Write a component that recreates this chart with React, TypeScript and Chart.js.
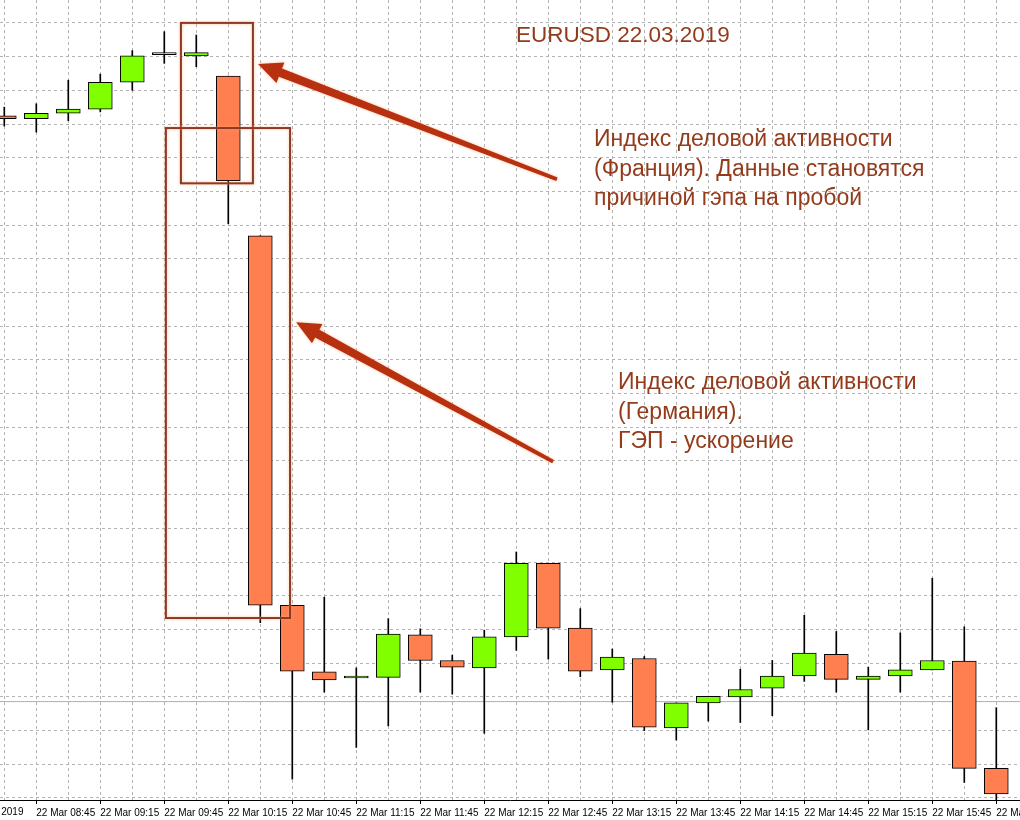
import { useEffect, useRef } from "react";
import { Chart, registerables, type Plugin } from "chart.js";

Chart.register(...registerables);

// EURUSD M15, 22.03.2019
const TIMES = [
  "08:30", "08:45", "09:00", "09:15", "09:30", "09:45", "10:00", "10:15",
  "10:30", "10:45", "11:00", "11:15", "11:30", "11:45", "12:00", "12:15",
  "12:30", "12:45", "13:00", "13:15", "13:30", "13:45", "14:00", "14:15",
  "14:30", "14:45", "15:00", "15:15", "15:30", "15:45", "16:00", "16:15",
];
const OPEN = [
  1.13712, 1.13708, 1.13716, 1.13722, 1.13762, 1.13803, 1.13801, 1.13771,
  1.13534, 1.12986, 1.12887, 1.12878, 1.12879, 1.12942, 1.12904, 1.12893,
  1.12939, 1.13048, 1.12952, 1.1289, 1.12907, 1.12804, 1.12841, 1.1285,
  1.12863, 1.12881, 1.12913, 1.12876, 1.12881, 1.1289, 1.12903, 1.12744,
];
const HIGH = [
  1.13725, 1.1373, 1.13765, 1.13774, 1.13809, 1.13837, 1.13832, 1.13771,
  1.13534, 1.12986, 1.12998, 1.12893, 1.12966, 1.12951, 1.12912, 1.12949,
  1.13065, 1.13048, 1.12981, 1.12921, 1.1291, 1.12841, 1.12851, 1.12891,
  1.12904, 1.12971, 1.12947, 1.12894, 1.12945, 1.13026, 1.12954, 1.12834,
];
const LOW = [
  1.13697, 1.13688, 1.13705, 1.13718, 1.1375, 1.1379, 1.13785, 1.13552,
  1.1296, 1.12728, 1.12857, 1.12775, 1.12807, 1.12857, 1.12854, 1.12796,
  1.12919, 1.12906, 1.1288, 1.12842, 1.128, 1.12786, 1.12814, 1.12812,
  1.12822, 1.12873, 1.12857, 1.12801, 1.12857, 1.1289, 1.12723, 1.1269,
];
const CLOSE = [
  1.13708, 1.13716, 1.13722, 1.13762, 1.13801, 1.13803, 1.13806, 1.13616,
  1.12986, 1.12888, 1.12875, 1.12881, 1.12943, 1.12904, 1.12894, 1.12939,
  1.13048, 1.12952, 1.12888, 1.12909, 1.12805, 1.12841, 1.12851, 1.12861,
  1.12881, 1.12915, 1.12876, 1.12881, 1.1289, 1.12904, 1.12744, 1.12706,
];
const BID = 1.12843;

// visible window of the terminal
const X_MIN = -0.134;
const X_MAX = 31.741;
const Y_MIN = 1.12697;
const Y_MAX = 1.13884;
const PRICE_STEP = 0.0005;
const DATE_LABEL = "22 Mar 2019";
const DATE_LABEL_END = 0.6;

// annotation boxes / arrows in data units (bar index, price)
const BOXES = [
  { x0: 5.52, x1: 7.77, p0: 1.1385, p1: 1.13612 },
  { x0: 5.05, x1: 8.93, p0: 1.13694, p1: 1.12967 },
];
const ARROWS = [
  { fromX: 17.27, fromP: 1.13618, toX: 7.93, toP: 1.13789 },
  { fromX: 17.15, fromP: 1.13199, toX: 9.12, toP: 1.13406 },
];

const TITLE = "EURUSD 22.03.2019";
const NOTE_FRANCE = [
  "Индекс деловой активности",
  "(Франция). Данные становятся",
  "причиной гэпа на пробой",
];
const NOTE_GERMANY = ["Индекс деловой активности", "(Германия).", "ГЭП - ускорение"];

const BULL = "#7FFF00";
const BEAR = "#FF7F50";
const GRID = "#b4b4b4";
const NOTE_COLOR = "#933b1b";
const BOX_COLOR = "#8c3a26";
const ARROW_COLOR = "#b7300f";
const FONT = '"Liberation Sans", Arial, sans-serif';

function drawArrow(ctx: CanvasRenderingContext2D, x0: number, y0: number, x1: number, y1: number) {
  const len = Math.hypot(x1 - x0, y1 - y0);
  const ux = (x1 - x0) / len;
  const uy = (y1 - y0) / len;
  const px = -uy;
  const py = ux;
  const headLen = 24;
  const bx = x1 - ux * headLen;
  const by = y1 - uy * headLen;
  const pts: [number, number][] = [
    [x0 + px * 1.8, y0 + py * 1.8],
    [bx + px * 4.5, by + py * 4.5],
    [bx + px * 11, by + py * 11],
    [x1, y1],
    [bx - px * 11, by - py * 11],
    [bx - px * 4.5, by - py * 4.5],
    [x0 - px * 1.8, y0 - py * 1.8],
  ];
  ctx.beginPath();
  pts.forEach(([x, y], i) => (i ? ctx.lineTo(x, y) : ctx.moveTo(x, y)));
  ctx.closePath();
  ctx.fill();
}

const annotations: Plugin<"bar"> = {
  id: "annotations",
  afterDraw(chart) {
    const { ctx } = chart;
    const xs = chart.scales.x;
    const ys = chart.scales.y;
    ctx.save();

    // first (cut off) date label of the time axis
    ctx.font = `10px ${FONT}`;
    ctx.fillStyle = "#000";
    ctx.textAlign = "right";
    ctx.textBaseline = "top";
    ctx.fillText(DATE_LABEL, xs.getPixelForValue(DATE_LABEL_END), xs.top + 7);
    ctx.textAlign = "left";

    ctx.shadowColor = "rgba(255,170,120,0.8)";
    ctx.shadowBlur = 3;
    ctx.strokeStyle = BOX_COLOR;
    ctx.lineWidth = 2;
    for (const b of BOXES) {
      const l = xs.getPixelForValue(b.x0);
      const r = xs.getPixelForValue(b.x1);
      const t = ys.getPixelForValue(b.p0);
      const btm = ys.getPixelForValue(b.p1);
      ctx.strokeRect(l, t, r - l, btm - t);
    }

    ctx.fillStyle = ARROW_COLOR;
    for (const a of ARROWS) {
      drawArrow(
        ctx,
        xs.getPixelForValue(a.fromX),
        ys.getPixelForValue(a.fromP),
        xs.getPixelForValue(a.toX),
        ys.getPixelForValue(a.toP)
      );
    }

    ctx.shadowBlur = 0;
    ctx.shadowColor = "transparent";
    ctx.fillStyle = NOTE_COLOR;
    ctx.textBaseline = "middle";
    ctx.font = `22.5px ${FONT}`;
    ctx.fillText(TITLE, 516, 36);
    ctx.font = `23px ${FONT}`;
    NOTE_FRANCE.forEach((line, i) => ctx.fillText(line, 594, 140 + i * 29.5));
    NOTE_GERMANY.forEach((line, i) => ctx.fillText(line, 618, 383 + i * 29.5));

    ctx.restore();
  },
};

export default function App() {
  const canvasRef = useRef<HTMLCanvasElement>(null);
  const chartRef = useRef<Chart | null>(null);

  useEffect(() => {
    if (!canvasRef.current) return;
    chartRef.current?.destroy();

    const bodies = TIMES.map((_, i) => ({ x: i, y: [OPEN[i], CLOSE[i]] }));
    const wicks = TIMES.map((_, i) => ({ x: i, y: [LOW[i], HIGH[i]] }));
    const bodyColors = TIMES.map((_, i) => (CLOSE[i] >= OPEN[i] ? BULL : BEAR));

    chartRef.current = new Chart(canvasRef.current, {
      type: "bar",
      data: {
        datasets: [
          {
            label: "body",
            data: bodies as any,
            backgroundColor: bodyColors,
            borderColor: "#000",
            borderWidth: 1,
            borderSkipped: false,
            barThickness: 24,
            minBarLength: 2,
            grouped: false,
            order: 0,
          },
          {
            label: "wick",
            data: wicks as any,
            backgroundColor: "#000",
            borderWidth: 0,
            barThickness: 1,
            grouped: false,
            order: 1,
          },
          {
            type: "line",
            label: "bid",
            data: [
              { x: X_MIN, y: BID },
              { x: X_MAX, y: BID },
            ] as any,
            borderColor: "#b0b0b0",
            borderWidth: 1,
            pointRadius: 0,
            order: 2,
          } as any,
        ],
      },
      options: {
        responsive: true,
        maintainAspectRatio: false,
        animation: false,
        layout: { padding: 0 },
        plugins: {
          legend: { display: false },
          tooltip: { enabled: false },
        },
        scales: {
          x: {
            type: "linear",
            offset: false,
            min: X_MIN,
            max: X_MAX,
            grid: {
              offset: false,
              color: GRID,
              tickLength: 4,
              tickColor: (c: any) => (c.tick && c.tick.value % 2 === 1 ? "#000" : "rgba(0,0,0,0)"),
            },
            border: { display: true, color: "#000", width: 1, dash: [3, 3] },
            ticks: {
              stepSize: 1,
              includeBounds: false,
              autoSkip: false,
              maxRotation: 0,
              minRotation: 0,
              align: "start",
              padding: 3,
              color: "#000",
              font: { family: FONT, size: 10 },
              callback: (v: any) => {
                const i = Number(v);
                return i % 2 === 1 ? `22 Mar ${TIMES[i]}` : "";
              },
            },
            afterFit: (s: any) => {
              s.height = 20;
              s.paddingLeft = 0;
              s.paddingRight = 0;
            },
          },
          y: {
            min: Y_MIN,
            max: Y_MAX,
            grid: { color: GRID, drawTicks: false },
            border: { display: false, dash: [3, 3] },
            ticks: { display: false, stepSize: PRICE_STEP, includeBounds: false },
          },
        },
      },
      plugins: [annotations],
    });

    return () => {
      chartRef.current?.destroy();
      chartRef.current = null;
    };
  }, []);

  return (
    <div
      style={{
        position: "absolute",
        left: 0,
        top: 0,
        width: 1020,
        height: 820,
        background: "#fff",
      }}
    >
      <canvas ref={canvasRef} />
    </div>
  );
}
